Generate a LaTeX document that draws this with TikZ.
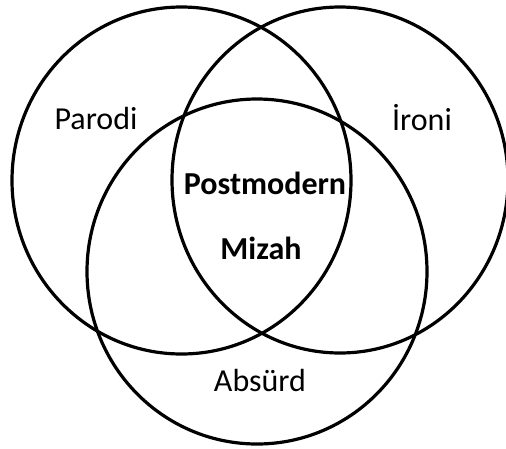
\documentclass[tikz,border=0pt]{standalone}
\usepackage{fontspec}
\setmainfont{Carlito}
\tikzset{ring/.style={line width=3.2pt},
  lbl/.style={font=\fontsize{32}{36}\selectfont, inner sep=0pt},
  core/.style={lbl, font=\fontsize{32}{36}\selectfont\bfseries}}

\begin{document}
\begin{tikzpicture}[x=1pt,y=-1pt]
\useasboundingbox (0,0) rectangle (506,448);
\clip (0,0) rectangle (506,448);
% three sets
\draw[ring] (181.5,180.5) ellipse (169.5 and 173.5);
\draw[ring] (340,180) ellipse (168 and 173);
\draw[ring] (257,271.5) ellipse (170 and 172.5);

\node[lbl] (parodi) at (96,119) {Parodi};
\node[lbl] (ironi) at (422,118) {İroni};
\node[lbl] (absurd) at (260,380) {Absürd};
\node[core] (post) at (265,183) {Postmodern};
\node[core] (mizah) at (261,248) {Mizah};
\end{tikzpicture}
\end{document}
